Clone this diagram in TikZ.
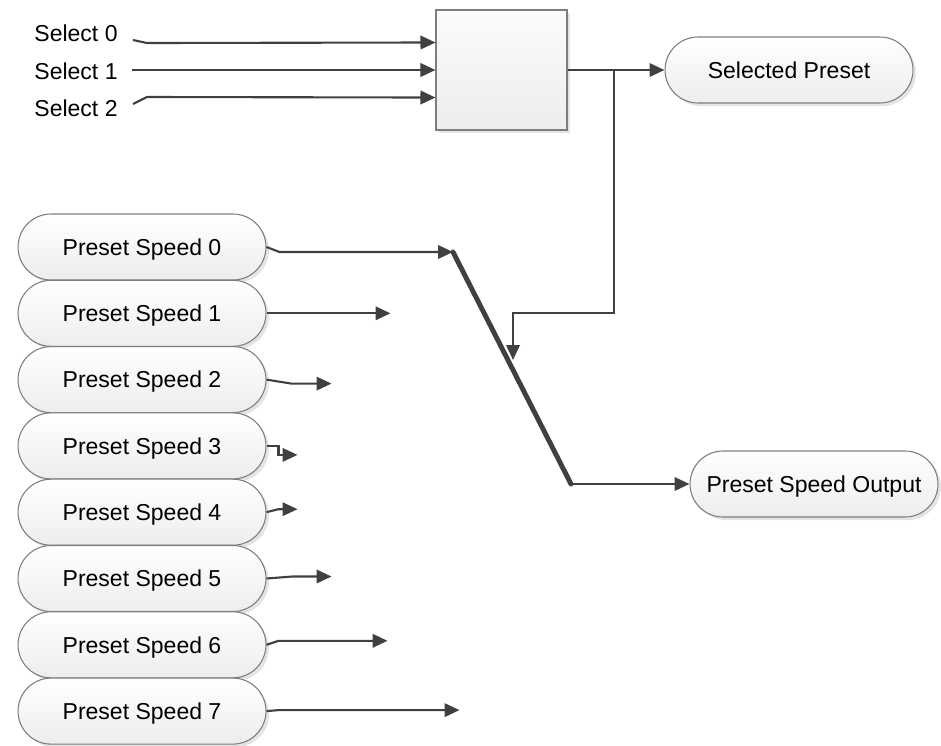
\documentclass[tikz,border=0pt]{standalone}
\usepackage{fontspec}
\setmainfont{Liberation Sans}
\usepackage{tikz}
\usetikzlibrary{calc,arrows.meta,shapes.misc,shadows}
\definecolor{wiregray}{RGB}{64,64,64}
\definecolor{edgegray}{RGB}{125,125,125}

\tikzset{
  pill/.style={rounded rectangle, draw=edgegray, line width=0.6pt,
    top color=white, bottom color=gray!14,
    minimum width=4.96cm, minimum height=1.32cm, inner sep=0pt,
    text depth=0pt,
    drop shadow={shadow xshift=0.06cm, shadow yshift=-0.06cm, fill=gray!60, opacity=0.35},
    font=\fontsize{13.1}{15}\selectfont},
  muxbox/.style={rectangle, draw=edgegray, line width=0.6pt,
    top color=gray!3, bottom color=gray!14,
    minimum width=2.62cm, minimum height=2.4cm,
    drop shadow={shadow xshift=0.06cm, shadow yshift=-0.06cm, fill=gray!60, opacity=0.35}},
  seltext/.style={inner sep=0pt, text depth=0pt, font=\fontsize{13.1}{15}\selectfont},
  wire/.style={draw=wiregray, line width=1.2pt, -{Triangle[length=0.3cm,width=0.27cm]}},
  switchbar/.style={draw=wiregray, line width=2.8pt, line cap=round}
}

\begin{document}
\begin{tikzpicture}[x=0.02cm, y=-0.02cm]
  \useasboundingbox (0,0) rectangle (941,745);

  % select inputs and selector box
  \node[seltext] (sel0) at (76,33) {Select 0};
  \node[seltext] (sel1) at (76,71) {Select 1};
  \node[seltext] (sel2) at (76,108) {Select 2};
  \node[muxbox] (mux) at (501.5,70) {};
  \node[pill] (selp) at (789,70) {Selected Preset};

  \draw[wire] ($(sel0.east)+(15,7)$) -- ($(sel0.east)+(29,10)$) -- ($(mux.north west)+(0,33)$);
  \draw[wire] ($(sel1.east)+(14,-1)$) -- (mux.west);
  \draw[wire] ($(sel2.east)+(15,-4)$) -- ($(sel2.east)+(29,-11)$) -- ($(mux.south west)+(0,-33)$);
  \draw[wire] (mux.east) -- (selp.west);

  % preset speeds
  \foreach \i in {0,...,7}
    \node[pill] (ps\i) at (142,{247+66.3*\i}) {Preset Speed \i};
  \node[pill] (pso) at (814,484) {Preset Speed Output};

  % switch
  \coordinate (swtop) at (453,252);
  \coordinate (swbot) at (571,484);
  \coordinate (ctrl) at (513,360);
  \coordinate (tap) at (614,70);
  \draw[switchbar] (swtop) -- (swbot);
  \draw[wire] (tap) |- ($(ctrl)+(0,-47)$) -- (ctrl);
  \draw[wire] (ps0.east) -- ++(13,5) -- (swtop);
  \draw[wire] (swbot) -- (pso.west);

  % open inputs
  \coordinate (e1) at ($(ps1.east)+(124,0)$);
  \coordinate (e2) at ($(ps2.east)+(65,4)$);
  \coordinate (e3) at ($(ps3.east)+(31,9)$);
  \coordinate (e4) at ($(ps4.east)+(31,-3)$);
  \coordinate (e5) at ($(ps5.east)+(65,-2)$);
  \coordinate (e6) at ($(ps6.east)+(121,-4)$);
  \coordinate (e7) at ($(ps7.east)+(193,-1)$);
  \draw[wire] (ps1.east) -- (e1);
  \draw[wire] (ps2.east) -- ++(25,4) -- (e2);
  \draw[wire] (ps3.east) -- ++(12,0) -- ++(0,9) -- (e3);
  \draw[wire] (ps4.east) -- ++(12,-3) -- (e4);
  \draw[wire] (ps5.east) -- ++(26,-2) -- (e5);
  \draw[wire] (ps6.east) -- ++(12,-4) -- (e6);
  \draw[wire] (ps7.east) -- ++(12,-1) -- (e7);
\end{tikzpicture}
\end{document}
